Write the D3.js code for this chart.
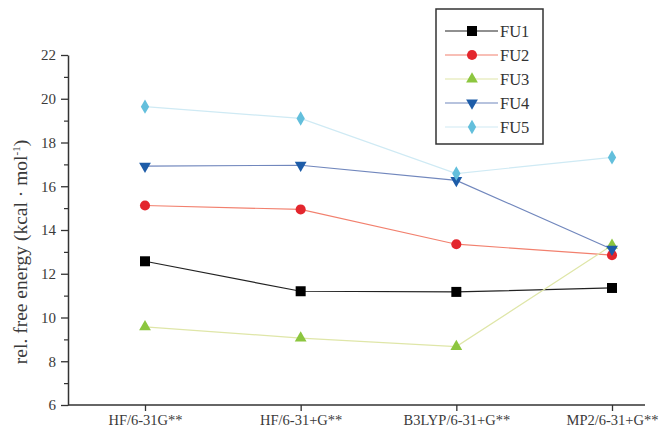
<!DOCTYPE html>
<html>
<head>
<meta charset="utf-8">
<script src="https://cdn.jsdelivr.net/npm/d3@7"></script>
<style>
  body { margin: 0; background: #fff; }
  text { font-family: "Liberation Serif", "DejaVu Serif", serif; }
</style>
</head>
<body>
<div id="chart"></div>
<script>
const METHODS = ["HF/6-31G**", "HF/6-31+G**", "B3LYP/6-31+G**", "MP2/6-31+G**"]
const SERIES = ["FU1", "FU2", "FU3", "FU4", "FU5"]
const FU1 = [12.57, 11.2, 11.17, 11.35]
const FU2 = [15.12, 14.94, 13.35, 12.85]
const FU3 = [9.57, 9.06, 8.67, 13.3]
const FU4 = [16.92, 16.96, 16.27, 13.12]
const FU5 = [19.64, 19.1, 16.58, 17.32]
const Y_TICKS = [6, 8, 10, 12, 14, 16, 18, 20, 22]

const values = [FU1, FU2, FU3, FU4, FU5]
const LINE_COLORS = ["#222", "#f2806e", "#dfe6a8", "#7187bd", "#cfeaf4"]
const MARK_COLORS = ["#000", "#e3262d", "#8cc63f", "#1d5ca8", "#63bfdc"]
const SYMBOLS = ["square", "circle", "triangle", "triangleDown", "diamond"]

const W = 660, H = 434
const MARGIN = { TOP: 55, BOTTOM: 29, LEFT: 68, RIGHT: 15 }

const svg = d3.select("#chart").append("svg")
    .attr("width", W)
    .attr("height", H)

const x = d3.scalePoint()
    .domain(METHODS)
    .range([145, 612])

const y = d3.scaleLinear()
    .domain([6, 22])
    .range([H - MARGIN.BOTTOM, MARGIN.TOP])

// y axis, major + minor ticks
svg.append("g")
    .attr("transform", `translate(${MARGIN.LEFT},0)`)
    .call(d3.axisLeft(y).tickValues(d3.range(7, 22, 2)).tickSize(4).tickFormat(""))
    .call(g => g.select(".domain").remove())
    .selectAll("line").attr("stroke", "#333").attr("stroke-width", 1.2)

const yAxis = svg.append("g")
    .attr("transform", `translate(${MARGIN.LEFT},0)`)
    .call(d3.axisLeft(y).tickValues(Y_TICKS).tickSize(7).tickSizeOuter(0).tickPadding(5))
yAxis.select(".domain").attr("stroke", "#333").attr("stroke-width", 1.5)
yAxis.selectAll("line").attr("stroke", "#333").attr("stroke-width", 1.3)
yAxis.selectAll("text").attr("font-size", 15).attr("fill", "#3a3a3a")
    .style("font-family", "Liberation Serif")

// x axis
const xAxis = svg.append("g")
    .attr("transform", `translate(0,${H - MARGIN.BOTTOM})`)
    .call(d3.axisBottom(x).tickSize(6).tickSizeOuter(0).tickPadding(4))
xAxis.select(".domain")
    .attr("d", `M${MARGIN.LEFT},0H${W - MARGIN.RIGHT}`)
    .attr("stroke", "#333").attr("stroke-width", 1.5)
xAxis.selectAll("line").attr("stroke", "#333").attr("stroke-width", 1.3)
xAxis.selectAll("text").attr("font-size", 14.5).attr("fill", "#3a3a3a")
    .style("font-family", "Liberation Serif")

// y label
svg.append("text")
    .attr("transform", `translate(27,252) rotate(-90)`)
    .attr("text-anchor", "middle")
    .attr("font-size", 19.5)
    .attr("fill", "#3a3a3a")
    .text("rel. free energy (kcal · mol")
    .append("tspan").attr("dy", -7).attr("font-size", 11).text("-1")
    .select(function() { return this.parentNode })
    .append("tspan").attr("dy", 7).text(")")

const line = d3.line()
    .x((d, i) => x(METHODS[i]))
    .y(d => y(d))

const sym = {
    square: d3.symbol(d3.symbolSquare, 100),
    circle: d3.symbol(d3.symbolCircle, 80),
    triangle: d3.symbol(d3.symbolTriangle, 60),
    triangleDown: d3.symbol(d3.symbolTriangle, 60),
    diamond: d3.symbol(d3.symbolDiamond, 60)
}
function rot(s) { return s === "triangleDown" ? " rotate(180)" : "" }

values.forEach((vals, k) => {
    svg.append("path")
        .datum(vals)
        .attr("fill", "none")
        .attr("stroke", LINE_COLORS[k])
        .attr("stroke-width", 1.2)
        .attr("d", line)
})
values.forEach((vals, k) => {
    svg.selectAll(".m" + k)
        .data(vals)
        .enter()
        .append("path")
        .attr("class", "m" + k)
        .attr("transform", (d, i) => `translate(${x(METHODS[i])},${y(d)})` + rot(SYMBOLS[k]))
        .attr("d", sym[SYMBOLS[k]]())
        .attr("fill", MARK_COLORS[k])
})

// legend
const legend = svg.append("g").attr("transform", "translate(436,9)")
legend.append("rect")
    .attr("width", 107).attr("height", 135)
    .attr("fill", "#fff").attr("stroke", "#333").attr("stroke-width", 1.5)

const items = legend.selectAll(".leg")
    .data(SERIES)
    .enter()
    .append("g")
    .attr("class", "leg")
    .attr("transform", (d, i) => `translate(0,${22 + 24 * i})`)
items.append("line")
    .attr("x1", 9).attr("x2", 62)
    .attr("stroke", (d, i) => LINE_COLORS[i]).attr("stroke-width", 1.2)
items.append("path")
    .attr("transform", (d, i) => "translate(36,0)" + rot(SYMBOLS[i]))
    .attr("d", (d, i) => sym[SYMBOLS[i]]())
    .attr("fill", (d, i) => MARK_COLORS[i])
items.append("text")
    .attr("x", 64).attr("dy", "0.35em")
    .attr("font-size", 16.5).attr("fill", "#333")
    .text(d => d)
</script>
</body>
</html>
